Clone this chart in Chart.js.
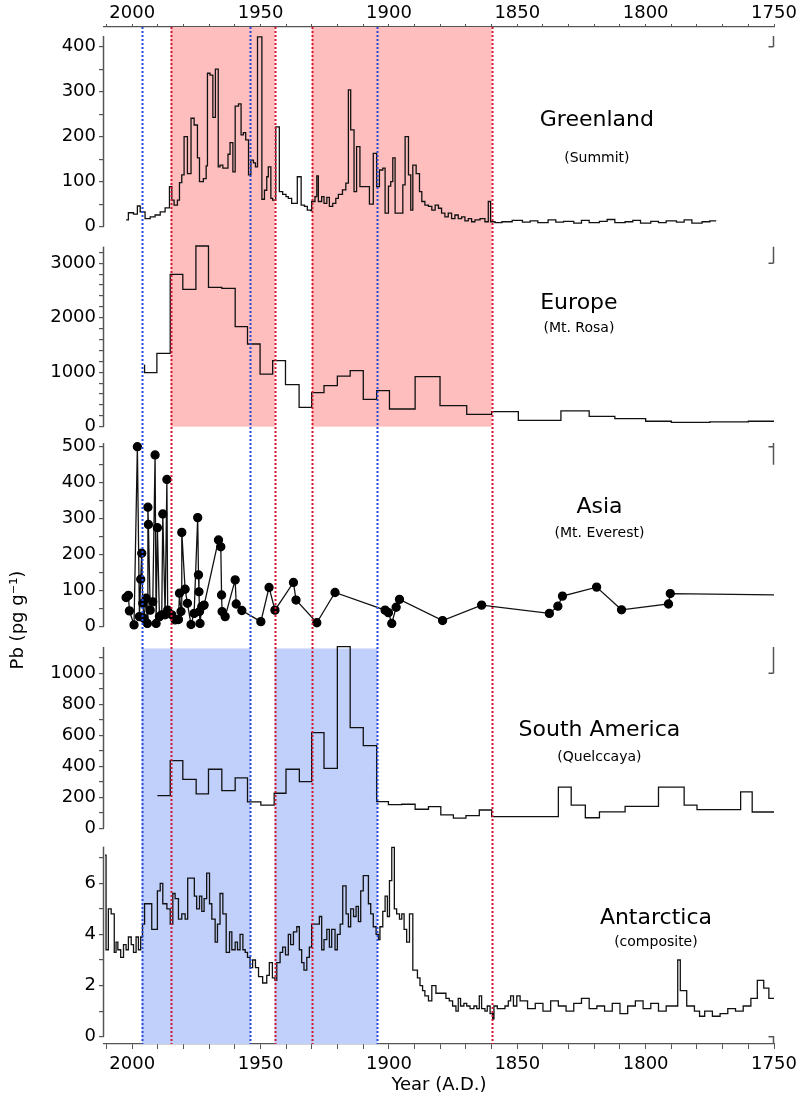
<!DOCTYPE html>
<html lang="en">
<head>
<meta charset="UTF-8">
<title>Pb records in ice cores</title>
<script src="https://cdn.jsdelivr.net/npm/chart.js@4.4.1/dist/chart.umd.min.js"></script>
<style>
  html, body { margin: 0; padding: 0; background: #fff; }
  #wrap { width: 804px; height: 1096px; }
</style>
</head>
<body>
<div id="wrap"><canvas id="myChart" width="804" height="1096"></canvas></div>
<script>
// ---- data (years are the start of each step) ----
const greenlandYears = [
  2002.4, 2001.5, 1999.5, 1998.0, 1996.9, 1995.0, 1993.0, 1991.1, 1989.1, 1987.2,
  1985.5, 1984.6, 1983.7, 1982.4, 1981.6, 1980.7, 1979.8, 1978.5, 1977.1, 1975.9,
  1974.6, 1973.8, 1972.3, 1971.2, 1970.7, 1969.7, 1968.6, 1967.6, 1966.5, 1965.8,
  1964.7, 1962.7, 1961.9, 1960.8, 1959.9, 1958.6, 1957.6, 1956.7, 1955.8, 1954.7,
  1953.8, 1952.8, 1952.0, 1951.2, 1949.5, 1948.5, 1947.6, 1947.0, 1946.0, 1945.3,
  1944.1, 1942.7, 1941.4, 1940.1, 1939.2, 1937.9, 1935.7, 1934.2, 1932.9, 1931.8,
  1930.5, 1930.1, 1928.8, 1928.1, 1927.5, 1926.2, 1925.3, 1924.2, 1923.2, 1921.9,
  1920.7, 1919.7, 1918.1, 1916.8, 1915.8, 1914.9, 1913.6, 1912.6, 1911.3, 1907.6,
  1906.1, 1904.8, 1903.7, 1902.4, 1901.5, 1900.2, 1899.3, 1898.5, 1897.6, 1894.6,
  1893.7, 1892.4, 1891.5, 1890.7, 1889.4, 1888.1, 1887.2, 1886.0, 1884.6, 1883.3,
  1882.0, 1880.7, 1879.5, 1878.2, 1876.9, 1875.6, 1874.3, 1873.0, 1871.7, 1870.4,
  1869.1, 1867.8, 1866.5, 1864.5, 1862.6, 1861.3, 1860.4, 1858.7, 1856, 1852,
  1848, 1845, 1842, 1838, 1835, 1832, 1828, 1825, 1822, 1818,
  1815, 1812, 1808, 1805, 1802, 1798, 1795, 1792, 1788, 1785,
  1782, 1778, 1775
];
const greenlandPb = [
  15, 31, 28, 46, 33, 18, 22, 26, 33, 42,
  89, 59, 48, 59, 98, 115, 200, 118, 241, 226,
  153, 100, 107, 135, 341, 337, 243, 350, 133, 137,
  130, 161, 187, 122, 268, 273, 204, 209, 193, 115,
  148, 142, 133, 422, 61, 81, 111, 133, 63, 59,
  222, 78, 72, 67, 63, 52, 111, 48, 45, 37,
  36, 56, 67, 113, 56, 67, 52, 65, 45, 52,
  63, 72, 82, 97, 304, 215, 78, 178, 89, 50,
  163, 89, 126, 130, 30, 90, 100, 153, 30, 93,
  200, 115, 37, 137, 118, 78, 56, 48, 45, 37,
  48, 41, 30, 22, 30, 18, 26, 18, 22, 13,
  18, 11, 15, 18, 11, 56, 11, 9, 11, 14,
  10, 13, 9, 15, 10, 12, 8, 14, 9, 12,
  16, 9, 11, 14, 8, 12, 9, 13, 10, 15,
  8, 11, 13
];
const greenlandEnd = 1772.5;

const europeYears = [
  1995.3, 1995.2, 1990.4, 1985.2, 1980.3, 1975.2, 1970.3, 1965.1, 1959.9, 1955.1, 1950.2,
  1945.3, 1940.3, 1935.0, 1930.1, 1925.3, 1920.1, 1915.1, 1910.0, 1904.8, 1899.8,
  1889.8, 1880.1, 1869.7, 1860.0, 1849.6, 1833, 1822, 1812, 1800, 1790,
  1775, 1760
];
const europePb = [
  1132, 992, 1347, 2797, 2522, 3317, 2558, 2540, 1836, 1518, 967,
  1212, 771, 355, 624, 753, 930, 1028, 502, 661, 325,
  918, 386, 227, 276, 115, 290, 190, 150, 100, 80,
  90, 100
];
const europeEnd = 1750;

const asiaYears = [
  2002.4, 2001.5, 2001.1, 1999.3, 1998.0, 1997.2, 1996.7, 1996.3, 1995.9, 1995.4,
  1994.6, 1994.1, 1993.9, 1993.7, 1993.0, 1992.0, 1991.1, 1990.7, 1990.2, 1989.4,
  1988.5, 1988.1, 1987.2, 1986.5, 1986.2, 1984.6, 1983.3, 1982.0, 1981.6, 1981.0,
  1980.7, 1979.4, 1978.5, 1977.1, 1975.9, 1974.5, 1974.2, 1974.0, 1973.8, 1973.6,
  1972.9, 1972.0, 1966.4, 1965.5, 1965.2, 1965.0, 1963.8, 1959.9, 1959.5, 1957.3,
  1949.9, 1946.7, 1944.4, 1937.2, 1936.2, 1928.1, 1921.0, 1901.5, 1900.2, 1898.9,
  1897.2, 1895.9, 1879.1, 1863.9, 1837.5, 1834.2, 1832.4, 1819.1, 1809.4, 1791.1,
  1790.4, 1745
];
const asiaPb = [
  81, 87, 44, 5, 500, 28, 132, 204, 65, 23,
  79, 9, 332, 284, 46, 69, 477, 9, 275, 28,
  33, 313, 33, 409, 46, 33, 19, 20, 93, 42,
  262, 104, 65, 6, 37, 303, 144, 97, 42, 9,
  56, 60, 241, 222, 88, 42, 28, 130, 63, 45,
  14, 109, 46, 123, 74, 11, 95, 46, 39, 9,
  54, 76, 17, 60, 37, 57, 85, 110, 47, 63,
  92, 88
];

const southAmericaYears = [
  1990.2, 1985.2, 1980.3, 1975.1, 1970.3, 1965.1, 1959.9, 1955.1, 1949.9, 1944.7,
  1940.1, 1934.9, 1930.1, 1925.3, 1920.1, 1915.1, 1910.0, 1904.8, 1900.2, 1895.0,
  1889.8, 1884.6, 1879.8, 1874.9, 1870.0, 1864.8, 1860.0, 1834, 1829, 1823.5,
  1818, 1808, 1795, 1785, 1780, 1763, 1758.5
];
const southAmericaPb = [
  211, 436, 316, 222, 381, 243, 325, 170, 150, 226,
  381, 301, 617, 387, 1172, 649, 533, 172, 153, 155,
  123, 140, 86, 65, 82, 118, 75, 265, 150, 68,
  106, 142, 265, 150, 120, 235, 105
];
const southAmericaEnd = 1750;

const antarcticaYears = [
  2010.6, 2010.2, 2009.3, 2008.2, 2007.0, 2006.3, 2005.6, 2004.5, 2003.4, 2002.4,
  2001.5, 2000.4, 1999.5, 1998.5, 1997.6, 1996.7, 1996.0, 1995.2, 1992.4, 1990.2,
  1989.1, 1988.1, 1986.5, 1985.2, 1984.2, 1983.3, 1982.0, 1980.7, 1979.4, 1978.4,
  1975.8, 1974.9, 1973.8, 1972.9, 1972.0, 1971.0, 1969.9, 1969.0, 1967.7, 1966.8,
  1965.8, 1964.7, 1963.4, 1962.1, 1961.2, 1959.9, 1959.0, 1958.0, 1956.9, 1956.0,
  1955.1, 1954.1, 1953.1, 1952.0, 1950.8, 1949.2, 1947.6, 1946.6, 1945.4, 1944.4,
  1943.7, 1942.4, 1941.4, 1940.3, 1939.2, 1938.3, 1937.2, 1935.9, 1934.9, 1934.0,
  1933.1, 1932.0, 1931.0, 1930.1, 1927.1, 1926.2, 1925.3, 1924.2, 1923.2, 1922.3,
  1921.0, 1920.1, 1919.0, 1918.0, 1916.7, 1915.8, 1914.9, 1913.8, 1912.8, 1911.9,
  1911.0, 1910.0, 1908.0, 1907.1, 1906.1, 1905.0, 1904.1, 1903.5, 1902.4, 1901.5,
  1900.6, 1899.8, 1898.9, 1897.9, 1897.0, 1895.9, 1895.0, 1894.1, 1893.1, 1892.0,
  1890.7, 1888.9, 1887.9, 1886.9, 1886.0, 1884.6, 1883.3, 1881.7, 1877.8, 1876.5,
  1875.2, 1873.9, 1873.0, 1872.1, 1870.8, 1869.7, 1868.4, 1866.9, 1865.8, 1864.8,
  1863.9, 1862.6, 1861.7, 1860.6, 1859.6, 1859.1, 1857.8, 1854.8, 1853.5, 1852.6,
  1851.5, 1850.2, 1848.9, 1846, 1843, 1840, 1837, 1834, 1831, 1828,
  1825, 1822, 1819, 1816, 1813, 1810, 1807, 1804, 1801, 1798,
  1795, 1792, 1787.5, 1786.5, 1784, 1781, 1779, 1777, 1774, 1771,
  1768, 1765, 1762, 1759, 1756.5, 1754, 1752
];
const antarcticaPb = [
  7.1, 3.4, 5.0, 4.8, 3.3, 3.7, 3.4, 3.1, 3.6, 3.4,
  3.9, 3.6, 3.3, 3.9, 3.4, 3.9, 4.4, 5.2, 4.2, 5.7,
  6.0, 5.2, 5.0, 4.4, 5.6, 5.4, 4.6, 4.8, 4.6, 6.2,
  5.5, 5.0, 5.5, 4.9, 5.4, 6.4, 5.2, 4.6, 3.7, 4.4,
  5.6, 4.8, 3.3, 4.1, 3.4, 3.7, 3.4, 4.0, 3.4, 3.3,
  3.1, 2.7, 3.0, 2.7, 2.35, 2.1, 2.4, 2.9, 2.3, 2.2,
  2.9, 3.3, 3.5, 3.2, 4.0, 3.6, 4.1, 4.3, 3.4, 2.9,
  2.6, 3.1, 3.5, 4.4, 4.7, 3.4, 3.8, 4.2, 3.5, 4.2,
  3.4, 4.0, 4.4, 5.9, 4.8, 4.3, 5.0, 4.7, 5.1, 4.5,
  5.7, 6.3, 5.2, 4.8, 4.3, 4.0, 3.8, 4.3, 4.9, 5.5,
  4.7, 6.1, 7.4, 5.0, 4.8, 4.6, 4.8, 4.2, 3.7, 4.8,
  2.6, 2.3, 2.0, 1.8, 1.6, 1.4, 2.0, 1.7, 1.5, 1.4,
  1.2, 1.0, 1.5, 1.2, 1.3, 1.2, 1.1, 1.2, 1.1, 1.6,
  1.1, 1.0, 1.2, 0.9, 0.7, 1.2, 1.1, 1.2, 1.4, 1.6,
  1.2, 1.6, 1.4, 1.1, 1.3, 1.0, 1.4, 1.2, 1.0, 1.3,
  1.5, 1.1, 1.2, 1.0, 1.3, 0.9, 1.2, 1.4, 1.1, 1.3,
  1.0, 1.2, 3.0, 1.8, 1.2, 1.0, 0.8, 1.0, 0.8, 0.9,
  1.1, 1.0, 1.2, 1.5, 2.2, 1.9, 1.5
];
const antarcticaEnd = 1750;

// marked periods (years)
const redBands = [[1985, 1944.5], [1930, 1860]];
const blueBands = [[1996.3, 1954], [1944.5, 1904.5]];
const redLines = [1985, 1944.5, 1930, 1860];
const blueLines = [1996.3, 1954, 1904.5];

// panel names, placed in data units of each panel
const panelLabels = [
  { text: 'Greenland', sub: '(Summit)', year: 1819, axis: 'yG', value: 237, subValue: 152 },
  { text: 'Europe', sub: '(Mt. Rosa)', year: 1826, axis: 'yE', value: 2270, subValue: 1810 },
  { text: 'Asia', sub: '(Mt. Everest)', year: 1818, axis: 'yA', value: 332, subValue: 260 },
  { text: 'South America', sub: '(Quelccaya)', year: 1818, axis: 'yS', value: 634, subValue: 460 },
  { text: 'Antarctica', sub: '(composite)', year: 1796, axis: 'yN', value: 4.64, subValue: 3.7 }
];

const FONT = 'DejaVu Sans';

function stepPoints(years, vals, end) {
  const pts = years.map((yr, i) => ({ x: yr, y: vals[i] }));
  if (end !== undefined) pts.push({ x: end, y: vals[vals.length - 1] });
  return pts;
}

function makeTicks(from, to, step) {
  const t = [];
  for (let v = from; v <= to + 1e-9; v += step) t.push({ value: +v.toFixed(4) });
  return t;
}

// one panel = one stacked y axis; min is negative so the panels get a gap
function panelAxis(min, max, tickTop, step, major, weight, stackWeight) {
  return {
    type: 'linear',
    position: 'left',
    stack: 'pb',
    stackWeight: stackWeight,
    weight: weight,
    min: min,
    max: max,
    border: { display: false },
    grid: { drawOnChartArea: false, drawTicks: true, tickLength: 5, color: '#555', lineWidth: 1.2 },
    ticks: {
      autoSkip: false,
      padding: 3,
      color: '#000',
      font: { family: FONT, size: 18 },
      callback: v => (Math.abs(v % major) < 1e-6 ? v : '')
    },
    afterBuildTicks: s => { s.ticks = makeTicks(0, tickTop, step); },
    afterFit: s => { s.width = 104; }
  };
}

function xAxis(pos) {
  return {
    type: 'linear',
    position: pos,
    reverse: true,
    min: 1750,
    max: 2011,
    border: { display: true, color: '#555', width: 1.2 },
    grid: { drawOnChartArea: false, tickLength: pos === 'top' ? 3 : 5, color: '#555' },
    ticks: {
      autoSkip: false,
      maxRotation: 0,
      padding: pos === 'top' ? 0 : 5,
      color: '#000',
      font: { family: FONT, size: 18 },
      callback: v => (v % 50 === 0 ? String(v) : '')
    },
    title: pos === 'bottom'
      ? { display: true, text: 'Year (A.D.)', color: '#000', font: { family: FONT, size: 18 }, padding: 0 }
      : { display: false },
    afterBuildTicks: s => { s.ticks = makeTicks(1750, 2010, 10); },
    afterFit: s => { s.height = pos === 'top' ? 27 : 52; }
  };
}

// each panel axis: top of the line, tick shown on the right, end of the right stub
const axisTops = {
  yG: [424, 400, 400],
  yE: [3305, 3000, 3000],
  yA: [510, 500, 450],
  yS: [1170, 1000, 1000],
  yN: [7.43, null, null]
};

const decor = {
  id: 'decor',
  beforeDatasetsDraw(chart) {
    const { ctx, chartArea, scales } = chart;
    const x = scales.x;
    ctx.save();
    ctx.fillStyle = '#ffbebe';
    const redBottom = scales.yE.getPixelForValue(0);
    redBands.forEach(([a, b]) => {
      const x0 = x.getPixelForValue(a), x1 = x.getPixelForValue(b);
      ctx.fillRect(x0, chartArea.top, x1 - x0, redBottom - chartArea.top);
    });
    ctx.fillStyle = '#c1d0fb';
    const blueTop = scales.yS.getPixelForValue(1160);
    blueBands.forEach(([a, b]) => {
      const x0 = x.getPixelForValue(a), x1 = x.getPixelForValue(b);
      ctx.fillRect(x0, blueTop, x1 - x0, chartArea.bottom - blueTop);
    });
    ctx.restore();
  },
  afterDatasetsDraw(chart) {
    const { ctx, chartArea, scales } = chart;
    const x = scales.x;
    ctx.save();
    ctx.lineWidth = 2;
    ctx.setLineDash([2, 2]);
    const vline = (yr, color) => {
      const px = Math.round(x.getPixelForValue(yr)) + 0.5;
      ctx.strokeStyle = color;
      ctx.beginPath();
      ctx.moveTo(px, chartArea.top);
      ctx.lineTo(px, chartArea.bottom);
      ctx.stroke();
    };
    redLines.forEach(yr => vline(yr, '#d3142e'));
    blueLines.forEach(yr => vline(yr, '#2449d8'));
    ctx.setLineDash([]);

    // y axis line of each panel, from 0 to its top; short stubs on the right
    ctx.strokeStyle = '#555';
    ctx.lineWidth = 1.5;
    const left = chartArea.left - 0.5, right = chartArea.right - 0.5;
    Object.keys(axisTops).forEach(id => {
      const s = scales[id];
      const [top, tick, stubEnd] = axisTops[id];
      ctx.beginPath();
      ctx.moveTo(left, s.getPixelForValue(0));
      ctx.lineTo(left, s.getPixelForValue(top));
      ctx.stroke();
      if (tick === null) return;
      const yt = s.getPixelForValue(top), yk = s.getPixelForValue(tick);
      ctx.beginPath();
      ctx.moveTo(right, yt);
      ctx.lineTo(right, s.getPixelForValue(stubEnd));
      ctx.moveTo(right, yk);
      ctx.lineTo(right - 5, yk);
      ctx.stroke();
    });
    const yN0 = scales.yN.getPixelForValue(0);
    ctx.beginPath();
    ctx.moveTo(right - 5, yN0);
    ctx.lineTo(right, yN0);
    ctx.lineTo(right, chartArea.bottom);
    ctx.stroke();

    // panel names
    ctx.fillStyle = '#000';
    ctx.textAlign = 'center';
    ctx.textBaseline = 'middle';
    panelLabels.forEach(l => {
      const px = x.getPixelForValue(l.year);
      ctx.font = '22px "' + FONT + '"';
      ctx.fillText(l.text, px, scales[l.axis].getPixelForValue(l.value));
      ctx.font = '14px "' + FONT + '"';
      ctx.fillText(l.sub, px, scales[l.axis].getPixelForValue(l.subValue));
    });

    // shared y title
    ctx.translate(18, 620);
    ctx.rotate(-Math.PI / 2);
    ctx.font = '18px "' + FONT + '"';
    ctx.fillText('Pb (pg g\u207B\u00B9)', 0, 0);
    ctx.restore();
  }
};

const lineStyle = { borderColor: '#111', borderWidth: 1.3, pointRadius: 0, fill: false, tension: 0 };

const chart = new Chart(document.getElementById('myChart').getContext('2d'), {
  type: 'line',
  data: {
    datasets: [
      Object.assign({ label: 'Greenland', data: stepPoints(greenlandYears, greenlandPb, greenlandEnd), yAxisID: 'yG', stepped: true }, lineStyle),
      Object.assign({ label: 'Europe', data: stepPoints(europeYears, europePb, europeEnd), yAxisID: 'yE', stepped: true }, lineStyle),
      Object.assign({}, lineStyle, {
        label: 'Asia', data: stepPoints(asiaYears, asiaPb), yAxisID: 'yA',
        pointRadius: 4, pointBackgroundColor: '#000', pointBorderColor: '#000', borderWidth: 1.3
      }),
      Object.assign({ label: 'South America', data: stepPoints(southAmericaYears, southAmericaPb, southAmericaEnd), yAxisID: 'yS', stepped: true }, lineStyle),
      Object.assign({ label: 'Antarctica', data: stepPoints(antarcticaYears, antarcticaPb, antarcticaEnd), yAxisID: 'yN', stepped: true }, lineStyle)
    ]
  },
  options: {
    responsive: false,
    animation: false,
    layout: { padding: { left: 0, right: 30, top: 0, bottom: 0 } },
    plugins: { legend: { display: false }, tooltip: { enabled: false } },
    scales: {
      x: xAxis('bottom'),
      x2: xAxis('top'),
      yG: panelAxis(-22.2, 443.8, 400, 50, 100, 5, 209.7),
      yE: panelAxis(-149.6, 3488, 3200, 200, 1000, 4, 198.15),
      yA: panelAxis(-28.2, 532.9, 500, 50, 100, 3, 202),
      yS: panelAxis(-59.4, 1235, 1100, 100, 200, 2, 200.65),
      yN: panelAxis(-0.285, 7.79, 7, 1, 2, 1, 206.5)
    }
  },
  plugins: [decor]
});
</script>
</body>
</html>
